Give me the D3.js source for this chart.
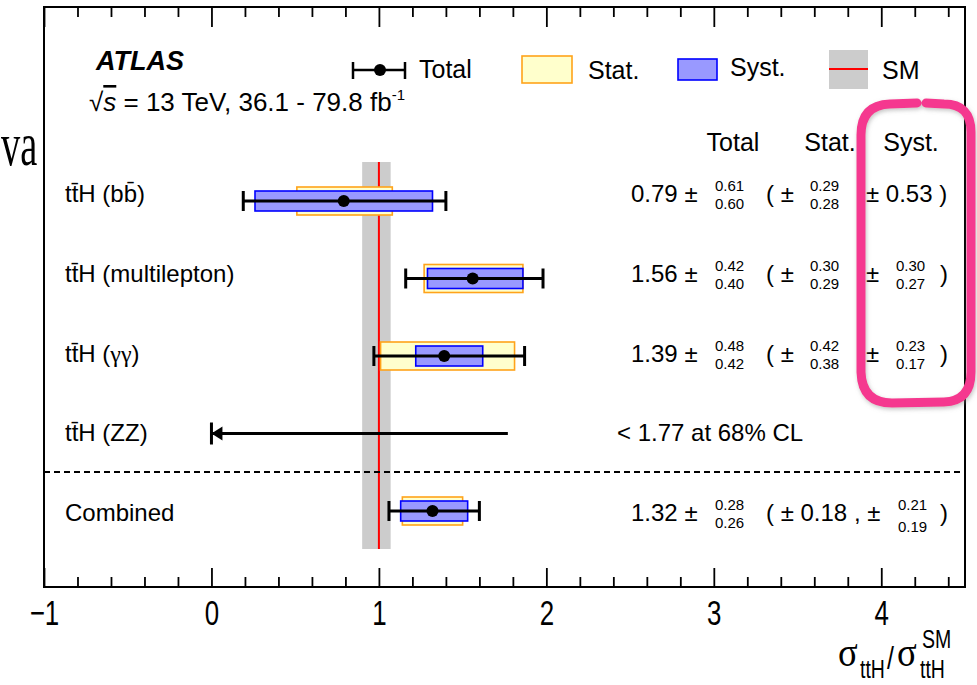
<!DOCTYPE html>
<html>
<head>
<meta charset="utf-8">
<script src="https://cdn.jsdelivr.net/npm/d3@7"></script>
<style>
  body { margin: 0; background: #fff; }
  text { font-family: "Liberation Sans", Arial, sans-serif; fill: #000; }
</style>
</head>
<body>
<div id="chart"></div>
<script>
// SVG size
var svgWidth = 977;
var svgHeight = 685;

// Frame of the plot
var frame = { left: 44, right: 965, top: 7, bottom: 587 };

// Channels and measured signal strengths
var channels = ["bb", "multilepton", "gammagamma", "ZZ", "Combined"];
var muValue = [0.79, 1.56, 1.39, null, 1.32];
var totalUp = [0.61, 0.42, 0.48, null, 0.28];
var totalDown = [0.60, 0.40, 0.42, null, 0.26];
var statUp = [0.29, 0.30, 0.42, null, 0.18];
var statDown = [0.28, 0.29, 0.38, null, 0.18];
var systUp = [0.53, 0.30, 0.23, null, 0.21];
var systDown = [0.53, 0.27, 0.17, null, 0.19];

// ZZ channel only has an upper limit
var zzLimit = 1.77;

// SM prediction and its uncertainty band
var smValue = 1;
var smBand = [0.90, 1.07];

// Axis ticks
var majorTicks = [-1, 0, 1, 2, 3, 4];
var minorTicks = d3.range(-0.8, 4.5, 0.2).filter(d => Math.abs(d - Math.round(d)) > 0.01);

var svg = d3.select("#chart")
  .append("svg")
  .attr("width", svgWidth)
  .attr("height", svgHeight);

var defs = svg.append("defs");
var shadow = defs.append("filter").attr("id", "shadow")
  .attr("x", "-10%").attr("y", "-10%").attr("width", "120%").attr("height", "120%");
shadow.append("feDropShadow")
  .attr("dx", 1).attr("dy", 2).attr("stdDeviation", 2)
  .attr("flood-color", "#888").attr("flood-opacity", 0.5);

// Scales
var xScale = d3.scaleLinear().domain([-1, 4.5]).range([frame.left, frame.right]);
var yRow = d3.scaleLinear().domain([0, 4]).range([201, 511]);
var yText = d3.scaleLinear().domain([0, 4]).range([202, 521]);

// stray text from the page the figure was cut from
svg.append("text")
  .attr("transform", "translate(1,165) scale(0.62,1)")
  .style("font-family", "'Liberation Serif', serif")
  .style("font-size", "62px")
  .text("va");

// SM band and line
svg.append("rect")
  .attr("x", xScale(smBand[0]))
  .attr("y", 162)
  .attr("width", xScale(smBand[1]) - xScale(smBand[0]))
  .attr("height", 549 - 162)
  .attr("fill", "#cccccc");

svg.append("line")
  .attr("x1", xScale(smValue)).attr("x2", xScale(smValue))
  .attr("y1", 162).attr("y2", 549)
  .attr("stroke", "#ff0000").attr("stroke-width", 2);

// separator between channels and combination
svg.append("line")
  .attr("x1", frame.left).attr("x2", frame.right)
  .attr("y1", 472).attr("y2", 472)
  .attr("stroke", "#000").attr("stroke-width", 2)
  .attr("stroke-dasharray", "6,4");

// Measurements
var rowIdx = d3.range(channels.length).filter(i => muValue[i] !== null);
var rows = svg.append("g").selectAll("g")
  .data(rowIdx)
  .enter()
  .append("g");

rows.append("rect")
  .attr("x", i => xScale(muValue[i] - statDown[i]))
  .attr("y", i => yRow(i) - 14)
  .attr("width", i => xScale(muValue[i] + statUp[i]) - xScale(muValue[i] - statDown[i]))
  .attr("height", 28)
  .attr("fill", "#ffffcc")
  .attr("stroke", "#ffa31a")
  .attr("stroke-width", 1.6);

rows.append("rect")
  .attr("x", i => xScale(muValue[i] - systDown[i]))
  .attr("y", i => yRow(i) - 10)
  .attr("width", i => xScale(muValue[i] + systUp[i]) - xScale(muValue[i] - systDown[i]))
  .attr("height", 20)
  .attr("fill", "#9999ff")
  .attr("stroke", "#0000ff")
  .attr("stroke-width", 1.6);

rows.append("line")
  .attr("x1", i => xScale(muValue[i] - totalDown[i]))
  .attr("x2", i => xScale(muValue[i] + totalUp[i]))
  .attr("y1", i => yRow(i)).attr("y2", i => yRow(i))
  .attr("stroke", "#000").attr("stroke-width", 3);

rows.append("line")
  .attr("x1", i => xScale(muValue[i] - totalDown[i]))
  .attr("x2", i => xScale(muValue[i] - totalDown[i]))
  .attr("y1", i => yRow(i) - 10).attr("y2", i => yRow(i) + 10)
  .attr("stroke", "#000").attr("stroke-width", 3);

rows.append("line")
  .attr("x1", i => xScale(muValue[i] + totalUp[i]))
  .attr("x2", i => xScale(muValue[i] + totalUp[i]))
  .attr("y1", i => yRow(i) - 10).attr("y2", i => yRow(i) + 10)
  .attr("stroke", "#000").attr("stroke-width", 3);

rows.append("circle")
  .attr("cx", i => xScale(muValue[i]))
  .attr("cy", i => yRow(i))
  .attr("r", 6)
  .attr("fill", "#000");

// ZZ upper limit arrow
var zzRow = 3;
svg.append("line")
  .attr("x1", xScale(0)).attr("x2", xScale(zzLimit))
  .attr("y1", yRow(zzRow)).attr("y2", yRow(zzRow))
  .attr("stroke", "#000").attr("stroke-width", 3);
svg.append("line")
  .attr("x1", xScale(0)).attr("x2", xScale(0))
  .attr("y1", yRow(zzRow) - 11).attr("y2", yRow(zzRow) + 11)
  .attr("stroke", "#000").attr("stroke-width", 3);
svg.append("path")
  .attr("d", `M${xScale(0)},${yRow(zzRow)} l11,-7 l0,14 z`)
  .attr("fill", "#000");

// Frame and axes
svg.append("rect")
  .attr("x", frame.left).attr("y", frame.top)
  .attr("width", frame.right - frame.left)
  .attr("height", frame.bottom - frame.top)
  .attr("fill", "none").attr("stroke", "#000").attr("stroke-width", 2);

function tickAxis(y, values, size, withLabels) {
  var axis = d3.axisBottom(xScale)
    .tickValues(values)
    .tickSizeInner(size)
    .tickSizeOuter(0)
    .tickFormat(withLabels ? d3.format("d") : "");
  var g = svg.append("g")
    .attr("transform", `translate(0, ${y})`)
    .call(axis);
  g.select(".domain").remove();
  g.selectAll(".tick line").attr("stroke-width", 1.8);
  return g;
}

tickAxis(frame.top, minorTicks, 10, false);
tickAxis(frame.top, majorTicks, 20, false);
tickAxis(frame.bottom, minorTicks, -10, false);
var xAxis = tickAxis(frame.bottom, majorTicks, -19, true);
xAxis.selectAll(".tick text")
  .attr("y", 38)
  .attr("dy", 0)
  .attr("transform", "scale(0.74,1)")
  .style("font-family", "'Liberation Sans', Arial, sans-serif")
  .style("font-size", "35px");

// Axis title
var titleParts = [
  { s: "σ", x: 838, y: 666, size: 43, serif: true },
  { s: "ttH", x: 860, y: 678, size: 25 },
  { s: "/", x: 887, y: 669, size: 32 },
  { s: "σ", x: 897, y: 666, size: 43, serif: true },
  { s: "SM", x: 922, y: 648, size: 25 },
  { s: "ttH", x: 920, y: 678, size: 25 }
];
titleParts.forEach(function(p) {
  svg.append("text")
    .attr("transform", `translate(${p.x},${p.y}) scale(${p.serif ? 0.85 : 0.78},1)`)
    .style("font-family", p.serif ? "'Liberation Serif', serif" : null)
    .style("font-size", p.size + "px")
    .text(p.s);
});

// ATLAS label
svg.append("text")
  .attr("x", 96).attr("y", 70)
  .style("font-size", "27px").style("font-weight", "bold").style("font-style", "italic")
  .text("ATLAS");

var ecm = svg.append("text")
  .attr("x", 89).attr("y", 111)
  .style("font-size", "26px");
ecm.append("tspan").text("√");
ecm.append("tspan").style("font-style", "italic").style("text-decoration", "overline").text("s");
ecm.append("tspan").text(" = 13 TeV, 36.1 - 79.8 fb");
ecm.append("tspan").attr("dy", -11).style("font-size", "15px").text("-1");

// Legend
var legend = svg.append("g");
legend.append("line").attr("x1", 353).attr("x2", 405).attr("y1", 70).attr("y2", 70)
  .attr("stroke", "#000").attr("stroke-width", 2.5);
[353, 405].forEach(function(x) {
  legend.append("line").attr("x1", x).attr("x2", x).attr("y1", 62).attr("y2", 79)
    .attr("stroke", "#000").attr("stroke-width", 2.5);
});
legend.append("circle").attr("cx", 380).attr("cy", 70).attr("r", 6).attr("fill", "#000");
legend.append("text").attr("x", 419).attr("y", 78).style("font-size", "25px").text("Total");

legend.append("rect").attr("x", 522).attr("y", 56).attr("width", 50).attr("height", 27)
  .attr("fill", "#ffffcc").attr("stroke", "#ffa31a").attr("stroke-width", 1.6);
legend.append("text").attr("x", 588).attr("y", 79).style("font-size", "25px").text("Stat.");

legend.append("rect").attr("x", 678).attr("y", 59).attr("width", 39).attr("height", 21)
  .attr("fill", "#9999ff").attr("stroke", "#0000ff").attr("stroke-width", 1.6);
legend.append("text").attr("x", 730).attr("y", 76).style("font-size", "25px").text("Syst.");

legend.append("rect").attr("x", 829).attr("y", 50).attr("width", 39).attr("height", 39)
  .attr("fill", "#cccccc");
legend.append("line").attr("x1", 829).attr("x2", 868).attr("y1", 69).attr("y2", 69)
  .attr("stroke", "#ff0000").attr("stroke-width", 2);
legend.append("text").attr("x", 882).attr("y", 79).style("font-size", "25px").text("SM");

// Column headers
var headerX = [733, 830, 911];
["Total", "Stat.", "Syst."].forEach(function(h, k) {
  svg.append("text").attr("x", headerX[k]).attr("y", 151)
    .attr("text-anchor", "middle").style("font-size", "25px").text(h);
});

// Row labels
channels.forEach(function(c, i) {
  var t = svg.append("text").attr("x", 65).attr("y", yText(i)).style("font-size", "24px");
  if (c === "Combined") { t.text("Combined"); return; }
  t.append("tspan").text("tt\u0304H (");
  if (c === "bb") t.append("tspan").text("bb\u0304");
  else if (c === "gammagamma") t.append("tspan").style("font-family", "'Liberation Serif', serif").text("γγ");
  else t.append("tspan").text(c);
  t.append("tspan").text(")");
});

// Numbers on the right
var f = d3.format(".2f");
function bigText(x, y, s) {
  svg.append("text").attr("x", x).attr("y", y).style("font-size", "24px").text(s);
}
function upDown(x, y, up, down, gap) {
  svg.append("text").attr("x", x).attr("y", y - 11).style("font-size", "15px").text(f(up));
  svg.append("text").attr("x", x).attr("y", y + gap).style("font-size", "15px").text(f(down));
}

rowIdx.forEach(function(i) {
  var y = yText(i);
  bigText(631, y, f(muValue[i]) + " ±");
  upDown(715, y, totalUp[i], totalDown[i], 7);
  if (statUp[i] === statDown[i]) {
    bigText(766, y, "( ± " + f(statUp[i]) + " ,  ±");
    upDown(898, y, systUp[i], systDown[i], 11);
    bigText(940, y, ")");
  } else {
    bigText(766, y, "(  ±");
    upDown(810, y, statUp[i], statDown[i], 7);
    if (systUp[i] === systDown[i]) {
      bigText(866, y, "± " + f(systUp[i]) + " )");
    } else {
      bigText(866, y, "±");
      upDown(896, y, systUp[i], systDown[i], 7);
      bigText(940, y, ")");
    }
  }
});
bigText(617, yText(zzRow), "< " + zzLimit + " at 68% CL");

// Hand-drawn highlight around the systematics column
svg.append("path")
  .attr("d", "M917,103 L890,104 Q861,105 861,135 L861,372 Q862,403 892,403 L944,402 Q971,401 971,372 L971,132 Q971,104 944,104 L926,103")
  .attr("fill", "none")
  .attr("stroke", "#f5388f")
  .attr("stroke-width", 9)
  .attr("stroke-linecap", "round")
  .attr("filter", "url(#shadow)");
</script>
</body>
</html>
